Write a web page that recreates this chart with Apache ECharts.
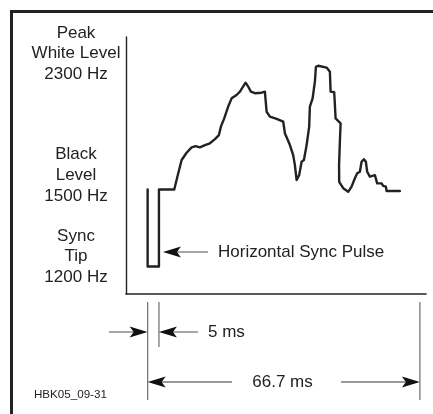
<!DOCTYPE html>
<html style="height: 100%">
<head>
	<meta charset="utf-8">
</head>
<body style="height: 100%; margin: 0; background: #fff">
<div id="container" style="width: 433px; height: 414px"></div>
<script type="text/javascript" src="https://cdn.jsdelivr.net/npm/echarts@6/dist/echarts.min.js"></script>
<script type="text/javascript">
    // one video line: sync pulse then picture content (time in ms, frequency in Hz)
    var timeMs = [0, 0, 2.77, 2.77, 6.52, 7.50, 8.33, 9.55, 10.78, 11.76, 12.81, 14.04, 15.26, 16.49, 17.46, 17.95,
        18.76, 19.74, 20.58, 21.80, 22.61, 24.00, 24.64, 25.30, 26.28, 27.92, 28.73, 28.90, 29.15, 29.96, 31.60, 33.22,
        33.63, 34.86, 35.66, 36.08, 36.50, 37.13, 37.72, 38.29, 38.95, 39.58, 39.75, 40.42, 40.98, 41.23, 41.79, 43.85,
        44.65, 44.83, 45.71, 45.88, 46.05, 47.28, 47.1, 46.9, 46.93, 47.91, 49.14, 49.97, 50.78, 51.34, 52.00, 52.42,
        52.98, 53.47, 53.79, 54.45, 55.68, 56.09, 56.24, 57.32, 57.71, 58.37, 58.54, 61.80];
    var freqHz = [1500, 1200, 1200, 1500, 1500, 1563, 1615, 1643, 1664, 1669, 1664, 1673, 1680, 1696, 1712, 1745,
        1777, 1823, 1855, 1868, 1881, 1916, 1901, 1881, 1875, 1877, 1881, 1849, 1803, 1784, 1775, 1764,
        1719, 1673, 1634, 1595, 1537, 1556, 1608, 1615, 1673, 1745, 1823, 1855, 1920, 1978, 1982, 1975,
        1959, 1881, 1879, 1829, 1777, 1758, 1686, 1595, 1530, 1505, 1491, 1511, 1544, 1563, 1569, 1608,
        1618, 1608, 1569, 1550, 1556, 1563, 1524, 1524, 1514, 1511, 1494, 1494];

    var levelLabels = [
        ['Peak', 'White Level', '2300 Hz'],
        ['Black', 'Level', '1500 Hz'],
        ['Sync', 'Tip', '1200 Hz']
    ];
    var pulseEndMs = 2.77;
    var lineLengthMs = 66.7;
    var pulseLabel = 'Horizontal Sync Pulse';
    var pulseWidthLabel = '5 ms';
    var lineLengthLabel = '66.7 ms';
    var figureId = 'HBK05_09-31';

    var dom = document.getElementById("container");
    var myChart = echarts.init(dom);

    var data = timeMs.map(function (t, i) {
        return [t, freqHz[i]];
    });

    var option = {
        backgroundColor: '#fff',
        animation: false,
        grid: {left: 126, right: 7, top: 37, bottom: 120},
        xAxis: {
            type: 'value', min: -5.3, max: 68.2,
            axisLine: {onZero: false, lineStyle: {color: '#222', width: 1.6}},
            axisTick: {show: false}, axisLabel: {show: false}, splitLine: {show: false}
        },
        yAxis: {
            type: 'value', min: 1093, max: 2094,
            axisLine: {show: true, onZero: false, lineStyle: {color: '#222', width: 1.4}},
            axisTick: {show: false}, axisLabel: {show: false}, splitLine: {show: false}
        },
        series: [{
            type: 'line',
            data: data,
            showSymbol: false,
            lineStyle: {color: '#222', width: 2.4, join: 'round', cap: 'round'}
        }]
    };
    myChart.setOption(option);

    var font = '17px "Liberation Sans", Arial, sans-serif';
    var gray = '#777';
    var elems = [];

    function text(str, x, y, align, f) {
        elems.push({
            type: 'text', x: x, y: y,
            style: {text: str, font: f || font, fill: '#222', align: align || 'left', verticalAlign: 'middle'}
        });
    }
    function line(x1, y1, x2, y2, color, w) {
        elems.push({
            type: 'line', shape: {x1: x1, y1: y1, x2: x2, y2: y2},
            style: {stroke: color || gray, lineWidth: w || 1.3}
        });
    }
    // arrow with black head at tipX, gray shaft to tailX
    function arrow(tipX, y, tailX) {
        var d = tailX > tipX ? 1 : -1;
        line(tipX + d * 14, y, tailX, y);
        elems.push({
            type: 'polygon',
            shape: {points: [[tipX, y], [tipX + d * 18, y - 5.5], [tipX + d * 14, y], [tipX + d * 18, y + 5.5]]},
            style: {fill: '#111'}
        });
    }

    // frame
    elems.push({
        type: 'polyline', shape: {points: [[11.5, 414], [11.5, 11.5], [433, 11.5]]},
        style: {stroke: '#222', lineWidth: 3, fill: null}
    });

    // level labels
    var blockY = [33, 154.5, 236];
    levelLabels.forEach(function (block, b) {
        block.forEach(function (s, i) {
            text(s, 76, blockY[b] + i * 20.8, 'center');
        });
    });

    var x0 = myChart.convertToPixel({gridIndex: 0}, [0, 1500])[0];
    var x1 = myChart.convertToPixel({gridIndex: 0}, [pulseEndMs, 1500])[0];
    var x2 = myChart.convertToPixel({gridIndex: 0}, [lineLengthMs, 1500])[0];

    // sync pulse pointer
    arrow(x1 + 4, 252, 208);
    text(pulseLabel, 218, 252);

    // dimension lines
    line(x0, 302, x0, 400);
    line(x1, 302, x1, 347);
    line(x2, 302, x2, 400);
    arrow(x0, 332, 109);
    arrow(x1, 332, 198);
    text(pulseWidthLabel, 208, 332);
    arrow(x0, 382, 232);
    arrow(x2, 382, 341);
    text(lineLengthLabel, 282.5, 382, 'center');
    text(figureId, 34, 394.5, 'left', '11.6px "Liberation Sans", Arial, sans-serif');

    myChart.setOption({graphic: {elements: elems}});
</script>
</body>
</html>
